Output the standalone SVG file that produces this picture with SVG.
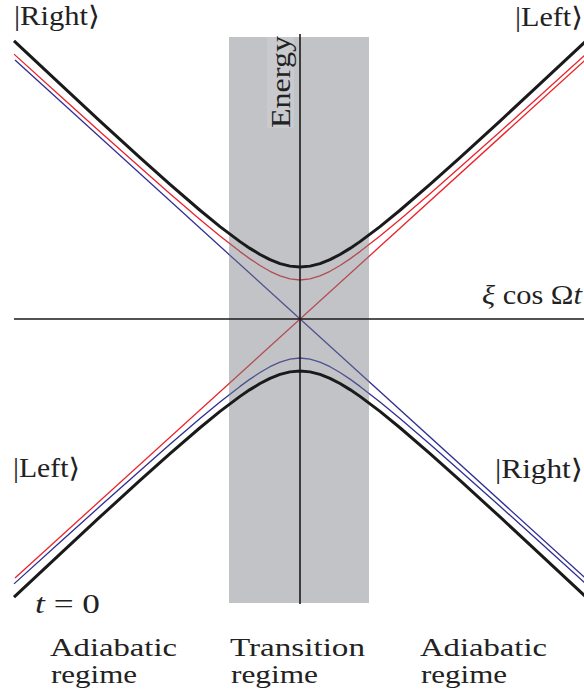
<svg xmlns="http://www.w3.org/2000/svg" width="584" height="697" viewBox="0 0 584 697">
<style>
.t{font-family:"Liberation Serif","DejaVu Serif",serif;font-size:27px;fill:#222}
.r{font-size:25px}
.red{fill:none;stroke:#e8232a;stroke-width:1.3;stroke-linejoin:round}
.blue{fill:none;stroke:#2e2e94;stroke-width:1.3;stroke-linejoin:round}
.blk{fill:none;stroke:#1a1a1a;stroke-width:3;stroke-linejoin:round}
.ax{fill:none;stroke:#1a1a1a;stroke-width:1.6}
</style>
<defs>
<path id="hb" d="M-286,-278.04 L-240,-235.03 L-200,-197.95 L-160,-161.4 L-130,-134.6 L-100,-108.74 L-80,-92.42 L-60,-77.38 L-50,-70.6 L-40,-64.52 L-30,-59.37 L-20,-55.4 L-10,-52.87 L0,-52 L10,-52.87 L20,-55.4 L30,-59.37 L40,-64.52 L50,-70.6 L60,-77.38 L80,-92.42 L100,-108.74 L130,-134.6 L160,-161.4 L200,-197.95 L240,-235.03 L286,-278.04"/>
<path id="hc" d="M-286,-264.86 L-240,-223.27 L-200,-187.3 L-160,-151.66 L-130,-125.3 L-100,-99.56 L-80,-83.01 L-60,-67.39 L-50,-60.15 L-40,-53.51 L-30,-47.71 L-20,-43.09 L-10,-40.06 L0,-39 L10,-40.06 L20,-43.09 L30,-47.71 L40,-53.51 L50,-60.15 L60,-67.39 L80,-83.01 L100,-99.56 L130,-125.3 L160,-151.66 L200,-187.3 L240,-223.27 L286,-264.86"/>
</defs>
<g id="connectors">
<g id="colored-levels">
<line class="red" x1="15" y1="578" x2="586" y2="59.2"/>
<line class="blue" x1="15" y1="60" x2="586" y2="578.8"/>
<use href="#hc" class="red" transform="translate(300,319)"/>
<use href="#hc" class="blue" transform="translate(300,319) scale(1,-1)"/>
</g>
<g id="transition-band">
<rect x="229" y="37" width="140" height="566" fill="#787c85" fill-opacity="0.46"/>
<rect x="267" y="37" width="27" height="91" fill="#ffffff" fill-opacity="0.12"/>
</g>
<g id="black-levels">
<use href="#hb" class="blk" transform="translate(300,319)"/>
<use href="#hb" class="blk" transform="translate(300,319) scale(1,-1)"/>
</g>
<g id="axes">
<line class="ax" x1="300" y1="34" x2="300" y2="604"/>
<line class="ax" x1="14" y1="319" x2="584" y2="319"/>
</g>
</g>
<g id="label-energy"><text class="t" transform="translate(290,128) rotate(-90)" textLength="92" lengthAdjust="spacingAndGlyphs">Energy</text></g>
<g id="label-xi"><text class="t" x="482" y="304" textLength="100" lengthAdjust="spacingAndGlyphs"><tspan font-style="italic">ξ</tspan> cos Ω<tspan font-style="italic">t</tspan></text></g>
<g id="state-right-top"><text class="t" x="14" y="25" textLength="86" lengthAdjust="spacingAndGlyphs">|Right⟩</text></g>
<g id="state-left-top"><text class="t" x="515" y="26" textLength="68" lengthAdjust="spacingAndGlyphs">|Left⟩</text></g>
<g id="state-left-bottom"><text class="t" x="13" y="477" textLength="67" lengthAdjust="spacingAndGlyphs">|Left⟩</text></g>
<g id="state-right-bottom"><text class="t" x="495" y="478" textLength="88" lengthAdjust="spacingAndGlyphs">|Right⟩</text></g>
<g id="label-t0"><text class="t" x="35" y="613" textLength="65" lengthAdjust="spacingAndGlyphs"><tspan font-style="italic">t</tspan> = 0</text></g>
<g id="regime-left"><text class="t r" x="50" y="656" textLength="127" lengthAdjust="spacingAndGlyphs">Adiabatic</text><text class="t r" x="51" y="683" textLength="86" lengthAdjust="spacingAndGlyphs">regime</text></g>
<g id="regime-middle"><text class="t r" x="230" y="656" textLength="135" lengthAdjust="spacingAndGlyphs">Transition</text><text class="t r" x="231" y="683" textLength="87" lengthAdjust="spacingAndGlyphs">regime</text></g>
<g id="regime-right"><text class="t r" x="420" y="656" textLength="127" lengthAdjust="spacingAndGlyphs">Adiabatic</text><text class="t r" x="421" y="683" textLength="86" lengthAdjust="spacingAndGlyphs">regime</text></g>
</svg>
